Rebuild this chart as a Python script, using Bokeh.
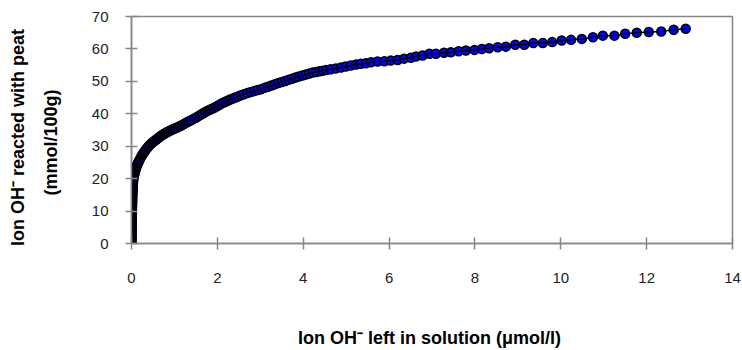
from bokeh.plotting import figure
from bokeh.models import Range1d, FixedTicker, LinearAxis
from bokeh.embed import file_html
from bokeh.resources import INLINE

# Ion OH- left in solution (umol/l)
oh_left = [
    0.000, 0.000, 0.001, 0.001, 0.002, 0.002, 0.003, 0.003, 0.004, 0.004,
    0.005, 0.005, 0.006, 0.006, 0.007, 0.007, 0.008, 0.008, 0.009, 0.009,
    0.010, 0.011, 0.012, 0.013, 0.014, 0.015, 0.016, 0.017, 0.018, 0.019,
    0.020, 0.022, 0.024, 0.026, 0.028, 0.030, 0.032, 0.034, 0.037, 0.040, 0.043,
    0.05, 0.06, 0.07, 0.08, 0.09, 0.10, 0.11, 0.12, 0.135, 0.15, 0.165, 0.18,
    0.20, 0.22, 0.24, 0.26, 0.28, 0.30, 0.32, 0.345, 0.37, 0.395, 0.42, 0.45,
    0.48, 0.51, 0.54, 0.57,
    0.60, 0.63, 0.66, 0.69, 0.72, 0.75, 0.78, 0.81, 0.84, 0.87, 0.90, 0.93, 0.96, 0.99,
    1.03, 1.07, 1.11, 1.15, 1.19, 1.23, 1.27, 1.31, 1.35, 1.40, 1.45, 1.50, 1.55,
    1.60, 1.65, 1.70, 1.75, 1.80, 1.85, 1.90, 1.95, 2.00, 2.05, 2.10, 2.15, 2.20,
    2.25, 2.30, 2.36, 2.42,
    2.48, 2.55, 2.62, 2.70, 2.78, 2.86, 2.94, 3.02, 3.10, 3.18, 3.26, 3.34, 3.42,
    3.50, 3.58, 3.66, 3.74, 3.82, 3.90, 3.98, 4.06, 4.14, 4.22, 4.30, 4.38, 4.46, 4.54,
    4.64, 4.76, 4.88, 4.99, 5.11, 5.23, 5.34, 5.46, 5.58, 5.73, 5.89, 6.04, 6.20,
    6.35, 6.51, 6.63, 6.78, 6.94, 7.09, 7.28, 7.44, 7.62, 7.79, 7.99, 8.16, 8.33,
    8.53, 8.72, 8.94, 9.15, 9.36, 9.58, 9.80, 10.02, 10.24, 10.49, 10.75, 10.98,
    11.25, 11.50, 11.77, 12.05, 12.34, 12.63, 12.91,
]

# Ion OH- reacted with peat (mmol/100g)
oh_reacted = [
    0.0, 0.5, 1.0, 1.5, 2.0, 2.5, 3.0, 3.5, 4.0, 4.5,
    5.0, 5.5, 6.0, 6.5, 7.0, 7.5, 8.0, 8.5, 9.0, 9.5,
    10.0, 10.5, 11.0, 11.5, 12.0, 12.5, 13.0, 13.5, 14.0, 14.5,
    15.0, 15.5, 16.0, 16.5, 17.0, 17.5, 18.0, 18.5, 19.0, 19.5, 20.0,
    20.4, 21.0, 21.6, 22.1, 22.6, 23.0, 23.4, 23.8, 24.3, 24.8, 25.2, 25.6,
    26.1, 26.6, 27.1, 27.5, 27.9, 28.3, 28.7, 29.1, 29.5, 29.9, 30.3, 30.7,
    31.1, 31.4, 31.7, 32.0,
    32.3, 32.6, 32.9, 33.2, 33.5, 33.7, 34.0, 34.2, 34.4, 34.6, 34.8, 35.0, 35.2, 35.4,
    35.6, 35.8, 36.1, 36.3, 36.6, 36.9, 37.2, 37.5, 37.8, 38.1, 38.5, 38.8, 39.2,
    39.6, 40.0, 40.4, 40.8, 41.1, 41.4, 41.7, 42.0, 42.4, 42.8, 43.2, 43.5, 43.8,
    44.1, 44.4, 44.7, 45.0,
    45.3, 45.7, 46.0, 46.4, 46.7, 47.0, 47.3, 47.6, 48.0, 48.3, 48.7, 49.1, 49.5,
    49.8, 50.1, 50.5, 50.8, 51.2, 51.5, 51.8, 52.1, 52.4, 52.7, 52.9, 53.1, 53.3, 53.5,
    53.7, 54.0, 54.3, 54.6, 54.9, 55.2, 55.4, 55.6, 55.9, 56.1, 56.2, 56.4, 56.6,
    57.0, 57.3, 57.7, 58.0, 58.5, 58.5, 58.8, 59.0, 59.3, 59.5, 59.7, 60.0, 60.2,
    60.5, 60.7, 61.3, 61.3, 61.8, 61.8, 62.1, 62.6, 62.8, 63.1, 63.6, 64.1,
    64.1, 64.7, 65.0, 65.2, 65.4, 65.9, 66.2,
]

x_ticks = [0, 2, 4, 6, 8, 10, 12, 14]
y_ticks = [0, 10, 20, 30, 40, 50, 60, 70]
x_title = "Ion OH\u207b left  in solution (\u03bcmol/l)"
y_title_1 = "Ion OH\u207b reacted with peat" + "\u00a0" * 3
y_title_2 = "(mmol/100g)" + "\u00a0" * 5

GRAY = "#868686"
FONT = "Liberation Sans"

p = figure(width=742, height=350, output_backend="svg", toolbar_location=None,
           x_range=Range1d(0, 14), y_range=Range1d(0, 70),
           min_border_left=131, min_border_right=10, min_border_top=16,
           min_border_bottom=107)
p.xgrid.visible = False
p.ygrid.visible = False
p.outline_line_color = GRAY
p.outline_line_width = 1.5
p.background_fill_color = "white"
p.border_fill_color = "white"

for ax, ticks in ((p.xaxis[0], x_ticks), (p.yaxis[0], y_ticks)):
    ax.ticker = FixedTicker(ticks=ticks)
    ax.axis_line_color = GRAY
    ax.axis_line_width = 1.5
    ax.major_tick_line_color = GRAY
    ax.major_tick_line_width = 1.5
    ax.major_tick_in = 6
    ax.major_tick_out = 6
    ax.minor_tick_line_color = None
    ax.major_label_text_font = FONT
    ax.major_label_text_font_size = "15px"
    ax.major_label_text_color = "#222222"
    ax.axis_label_text_font = FONT
    ax.axis_label_text_font_style = "bold"
    ax.axis_label_text_font_size = "18px"
    ax.axis_label_text_color = "black"

p.xaxis[0].major_label_standoff = 23
p.yaxis[0].major_label_standoff = 17
p.xaxis[0].axis_label = x_title
p.xaxis[0].axis_label_standoff = 42
p.yaxis[0].axis_label = y_title_2
p.yaxis[0].axis_label_standoff = 28

outer = LinearAxis(ticker=FixedTicker(ticks=[]), axis_label=y_title_1,
                   axis_line_color=None, major_tick_in=0, major_tick_out=0,
                   minor_tick_line_color=None, major_label_standoff=0,
                   axis_label_standoff=10, axis_label_text_font=FONT,
                   axis_label_text_font_style="bold", axis_label_text_font_size="18px",
                   axis_label_text_color="black")
p.add_layout(outer, "left")

p.scatter(oh_left, oh_reacted, marker="circle", size=9, fill_color="#0000ff",
          line_color="black", line_width=1.5)
p.line(oh_left, oh_reacted, line_color="black", line_width=1.5)

open("out.html", "w").write(file_html(p, INLINE))
